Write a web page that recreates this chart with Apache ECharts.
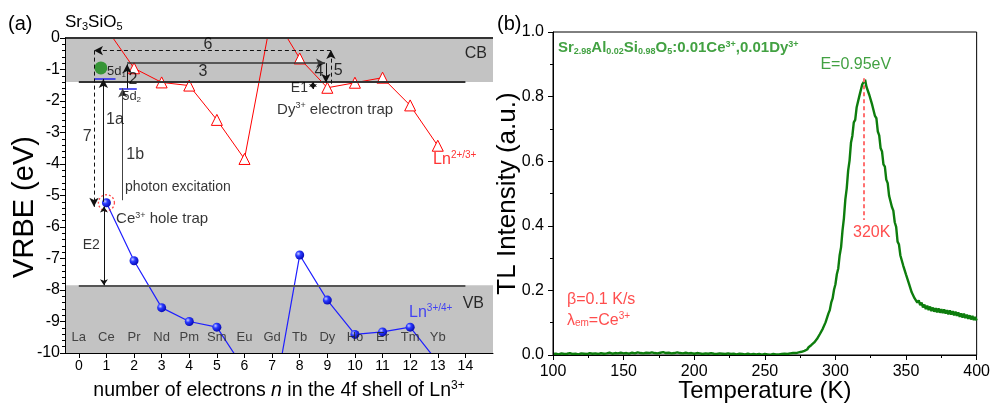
<!DOCTYPE html>
<html><head><meta charset="utf-8">
<script src="https://cdn.jsdelivr.net/npm/echarts@6/dist/echarts.min.js"></script>
<style>html,body{margin:0;padding:0;background:#fff}#c{width:993px;height:410px}</style>
</head><body><div id="c"></div>
<script>
// ---------- Panel (a): VRBE diagram ----------
const nTicks = [0,1,2,3,4,5,6,7,8,9,10,11,12,13,14];
const elementNames = ['La','Ce','Pr','Nd','Pm','Sm','Eu','Gd','Tb','Dy','Ho','Er','Tm','Yb'];
const ln23N    = [1, 2, 3, 4, 5, 6, 7, 8, 9, 10, 11, 12, 13];
const ln23VRBE = [0.3, -0.96, -1.41, -1.51, -2.6, -3.84, 0.8, -0.65, -1.58, -1.42, -1.26, -2.14, -3.42];
const ln34N    = [1, 2, 3, 4, 5, 6, 7, 8, 9, 10, 11, 12, 13];
const ln34VRBE = [-5.23, -7.07, -8.56, -9.0, -9.18, -10.52, -11.82, -6.89, -8.32, -9.41, -9.33, -9.18, -10.29];
const cbBottom = -1.4;
const vbTop = -7.85;
const ce5d1 = -1.3;
const ce5d2 = -1.6;
const electronPos = [0.8, -0.95];

// ---------- Panel (b): TL glow curve [T (K), intensity] ----------
const tlCurve = [
[100,.003],[102,.004],[104,.002],[106,.005],[108,.003],[110,.004],[112,.006],[114,.003],[116,.004],[118,.002],
[120,.005],[122,.004],[124,.003],[126,.006],[128,.004],[130,.005],[132,.003],[134,.006],[136,.004],[138,.005],
[140,.007],[142,.004],[144,.006],[146,.005],[148,.007],[150,.005],[152,.006],[154,.004],[156,.007],[158,.005],
[160,.008],[162,.006],[164,.005],[166,.007],[168,.006],[170,.008],[172,.006],[174,.005],[176,.007],[178,.009],
[180,.006],[182,.007],[184,.005],[186,.006],[188,.008],[190,.006],[192,.005],[194,.007],[196,.005],[198,.006],
[200,.004],[202,.006],[204,.005],[206,.003],[208,.005],[210,.004],[212,.006],[214,.004],[216,.003],[218,.005],
[220,.004],[222,.003],[224,.005],[226,.003],[228,.004],[230,.002],[232,.004],[234,.003],[236,.002],[238,.004],
[240,.002],[242,.003],[244,.002],[246,.003],[248,.001],[250,.003],[252,.002],[254,.001],[256,.003],[258,.002],
[260,.002],[262,.003],[264,.004],[266,.003],[268,.005],[270,.006],
[271,.009],[272,.006],[273,.010],[274,.008],[275,.012],[276,.010],[277,.015],[278,.013],[279,.019],[280,.017],
[281,.024],[282,.022],[283,.031],[284,.030],[285,.039],[286,.040],[287,.050],[288,.051],[289,.065],[290,.066],
[291,.081],[292,.085],[293,.101],[294,.105],[295,.128],[296,.139],[297,.162],[298,.175],[299,.202],[300,.219],
[301,.250],[302,.268],[303,.309],[304,.334],[305,.385],[306,.423],[307,.481],[308,.516],[309,.571],[310,.602],
[311,.657],[312,.679],[313,.720],[314,.728],[315,.766],[316,.765],[317,.803],[318,.808],[319,.838],[320,.840],
[321,.852],[322,.830],[323,.833],[324,.805],[325,.804],[326,.775],[327,.772],[328,.740],[329,.733],[330,.692],
[331,.680],[332,.640],[333,.630],[334,.590],[335,.583],[336,.543],[337,.532],[338,.493],[339,.487],[340,.458],
[341,.447],[342,.411],[343,.397],[344,.351],[345,.342],[346,.308],[347,.304],[348,.277],[349,.274],[350,.249],
[351,.246],[352,.222],[353,.219],[354,.194],[355,.196],[356,.176],[357,.181],[358,.162],[359,.169],[360,.154],
[361,.162],[362,.147],[363,.156],[364,.142],[365,.153],[366,.139],[367,.150],[368,.136],[369,.147],[370,.134],
[371,.145],[372,.132],[373,.144],[374,.131],[375,.142],[376,.130],[377,.141],[378,.128],[379,.139],[380,.126],
[381,.138],[382,.125],[383,.136],[384,.123],[385,.134],[386,.121],[387,.132],[388,.118],[389,.129],[390,.116],
[391,.128],[392,.114],[393,.125],[394,.112],[395,.123],[396,.110],[397,.121],[398,.108],[399,.118],[400,.107]
];
const peakT = 320;
const peakTop = 0.857, peakBottom = 0.418;

// ---------- styling ----------
const FONT = '"Liberation Sans", Arial, sans-serif';
function rich(fs) {
  return {
    sup: {fontSize: Math.round(fs*0.62), padding: [0,0,Math.round(fs*0.5),0], fontFamily: FONT},
    sub: {fontSize: Math.round(fs*0.62), padding: [Math.round(fs*0.45),0,0,0], fontFamily: FONT},
    i: {fontStyle: 'italic', fontSize: fs, fontFamily: FONT}
  };
}
function ann(x, y, text, o) {
  o = o || {};
  const fs = o.fontSize || 15;
  return {
    value: [x, y],
    label: {
      show: true, position: 'inside', formatter: text,
      align: o.align || 'center', verticalAlign: 'middle',
      fontSize: fs, color: o.color || '#000', fontFamily: FONT,
      fontWeight: o.bold ? 'bold' : 'normal',
      rich: rich(fs)
    }
  };
}
function arrow(x1, y1, x2, y2, o) {
  o = o || {};
  return [
    {coord: [x1, y1], symbol: o.both ? 'arrow' : 'none', symbolSize: o.size || [7, 9]},
    {coord: [x2, y2], symbol: 'arrow', symbolSize: o.size || [7, 9],
     lineStyle: {type: o.dashed ? [4, 3] : 'solid', color: o.color || '#111', width: o.width || 1}}
  ];
}
function seg(x1, y1, x2, y2, color, width) {
  return [
    {coord: [x1, y1], symbol: 'none'},
    {coord: [x2, y2], symbol: 'none', lineStyle: {type: 'solid', color: color, width: width}}
  ];
}

const annotationsA = [
  ann(4.68, -0.22, '6', {fontSize: 16}),
  ann(4.50, -1.08, '3', {fontSize: 16}),
  ann(1.96, -1.33, '2', {fontSize: 16}),
  ann(8.70, -1.08, '4', {fontSize: 16}),
  ann(9.39, -1.05, '5', {fontSize: 16}),
  ann(1.02, -1.07, '5d{sub|1}', {fontSize: 13, align: 'left'}),
  ann(1.57, -1.86, '5d{sub|2}', {fontSize: 13, align: 'left'}),
  ann(1.31, -2.6, '1a', {fontSize: 16}),
  ann(0.30, -3.14, '7', {fontSize: 16}),
  ann(2.04, -3.71, '1b', {fontSize: 16}),
  ann(1.67, -4.73, 'photon excitation', {fontSize: 14, align: 'left'}),
  ann(8.30, -1.59, 'E1', {fontSize: 14, align: 'right'}),
  ann(7.18, -2.27, 'Dy{sup|3+} electron trap', {fontSize: 15, align: 'left'}),
  ann(12.83, -3.85, 'Ln{sup|2+/3+}', {fontSize: 16, align: 'left', color: '#ff0000'}),
  ann(1.35, -5.75, 'Ce{sup|3+} hole trap', {fontSize: 15, align: 'left'}),
  ann(0.45, -6.57, 'E2', {fontSize: 14}),
  ann(11.96, -8.72, 'Ln{sup|3+/4+}', {fontSize: 16, align: 'left', color: '#1f1fff'}),
  ann(14.78, -0.51, 'CB', {fontSize: 16, align: 'right'}),
  ann(13.90, -8.44, 'VB', {fontSize: 16, align: 'left'})
].concat(elementNames.map((nm, i) => ann(nTicks[i], -9.52, nm, {fontSize: 13, color: '#222'})));

const annotationsB = [
  ann(103.5, 0.95, 'Sr{sub|2.98}Al{sub|0.02}Si{sub|0.98}O{sub|5}:0.01Ce{sup|3+},0.01Dy{sup|3+}', {fontSize: 15, bold: true, align: 'left', color: '#138a13'}),
  ann(314.4, 0.898, 'E=0.95eV', {fontSize: 16, color: '#138a13'}),
  ann(325.7, 0.378, '320K', {fontSize: 16, color: '#ff2020'}),
  ann(109.9, 0.17, 'β=0.1 K/s', {fontSize: 16, align: 'left', color: '#ff2020'}),
  ann(109.9, 0.108, 'λ{sub|em}=Ce{sup|3+}', {fontSize: 16, align: 'left', color: '#ff2020'})
];

const chart = echarts.init(document.getElementById('c'), null, {renderer: 'canvas'});
const axisTxt = {color: '#000', fontFamily: FONT};

const option = {
  animation: false,
  backgroundColor: '#fff',
  textStyle: {fontFamily: FONT},
  grid: [
    {left: 65, top: 38, width: 428, height: 315, show: false},
    {left: 553, top: 32, width: 424, height: 323, show: true, borderColor: '#000', borderWidth: 1, backgroundColor: 'transparent'}
  ],
  xAxis: [
    {
      type: 'value', gridIndex: 0, min: -0.5, max: 15, z: 10,
      axisLine: {show: true, onZero: false, lineStyle: {color: '#000', width: 1}},
      axisTick: {show: true, customValues: nTicks, length: 5, lineStyle: {color: '#000'}},
      axisLabel: {customValues: nTicks, fontSize: 14, margin: 6, ...axisTxt},
      splitLine: {show: false},
      name: 'number of electrons {i|n} in the 4f shell of Ln{sup|3+}',
      nameLocation: 'middle', nameGap: 27, nameMoveOverlap: false,
      nameTextStyle: {fontSize: 19.5, color: '#000', fontFamily: FONT, rich: rich(19.5)}
    },
    {
      type: 'value', gridIndex: 1, min: 100, max: 400, interval: 50, z: 10,
      axisLine: {show: true, onZero: false, lineStyle: {color: '#000'}},
      axisTick: {show: true, length: 5, lineStyle: {color: '#000'}},
      minorTick: {show: true, splitNumber: 2, length: 3, lineStyle: {color: '#000'}},
      axisLabel: {fontSize: 16, margin: 9, ...axisTxt},
      splitLine: {show: false},
      name: 'Temperature (K)', nameLocation: 'middle', nameGap: 24, nameMoveOverlap: false,
      nameTextStyle: {fontSize: 24, color: '#000', fontFamily: FONT}
    }
  ],
  yAxis: [
    {
      type: 'value', gridIndex: 0, min: -10, max: 0, interval: 1, z: 10,
      axisLine: {show: true, onZero: false, lineStyle: {color: '#000'}},
      axisTick: {show: true, length: 5, lineStyle: {color: '#000'}},
      minorTick: {show: true, splitNumber: 5, length: 3, lineStyle: {color: '#000'}},
      axisLabel: {fontSize: 16, margin: 5, ...axisTxt},
      splitLine: {show: false}
    },
    {
      type: 'value', gridIndex: 1, min: 0, max: 1, interval: 0.2, z: 10,
      axisLine: {show: true, onZero: false, lineStyle: {color: '#000'}},
      axisTick: {show: true, length: 5, lineStyle: {color: '#000'}},
      minorTick: {show: true, splitNumber: 2, length: 3, lineStyle: {color: '#000'}},
      axisLabel: {fontSize: 16, margin: 9, formatter: v => v.toFixed(1), ...axisTxt},
      splitLine: {show: false},
      name: 'TL Intensity (a.u.)', nameLocation: 'middle', nameGap: 32, nameRotate: 90, nameMoveOverlap: false,
      nameTextStyle: {fontSize: 26, color: '#000', fontFamily: FONT}
    }
  ],
  series: [
    {
      type: 'line', xAxisIndex: 0, yAxisIndex: 0, data: [], z: 1, silent: true,
      markArea: {
        silent: true,
        itemStyle: {color: '#c3c3c3'},
        data: [
          [{coord: [-0.5, 0]}, {coord: [15, cbBottom]}],
          [{coord: [-0.5, vbTop]}, {coord: [15, -10]}]
        ]
      },
      markLine: {
        silent: true, symbol: 'none', label: {show: false}, animation: false,
        data: [
          seg(-0.5, 0, 15, 0, '#333', 2),
          seg(0, cbBottom, 14, cbBottom, '#333', 2),
          seg(0, vbTop, 14, vbTop, '#555', 2),
          seg(0.55, ce5d1, 1.33, ce5d1, '#2222ee', 1.5),
          seg(1.46, ce5d2, 2.1, ce5d2, '#2222ee', 1.5)
        ]
      }
    },
    {
      type: 'line', xAxisIndex: 0, yAxisIndex: 0, z: 3,
      data: ln23N.map((n, i) => [n, ln23VRBE[i]]),
      symbol: 'triangle', symbolSize: 11, showAllSymbol: true, clip: true,
      lineStyle: {color: '#ff0000', width: 1},
      itemStyle: {color: '#ffffff', borderColor: '#ff0000', borderWidth: 1}
    },
    {
      type: 'line', xAxisIndex: 0, yAxisIndex: 0, z: 3,
      data: ln34N.map((n, i) => [n, ln34VRBE[i]]),
      symbol: 'circle', symbolSize: 9, showAllSymbol: true, clip: true,
      lineStyle: {color: '#1f1fff', width: 1.2},
      itemStyle: {color: {type: 'radial', x: 0.35, y: 0.35, r: 0.75,
        colorStops: [{offset: 0, color: '#c8ccff'}, {offset: 0.35, color: '#2a3aff'}, {offset: 1, color: '#0000a8'}]}}
    },
    {
      type: 'scatter', xAxisIndex: 0, yAxisIndex: 0, z: 4,
      data: [[ln34N[0], ln34VRBE[0]]], symbol: 'circle', symbolSize: 16,
      itemStyle: {color: 'transparent', borderColor: '#ff2020', borderWidth: 1.3, borderType: [2, 2]}
    },
    {
      type: 'scatter', xAxisIndex: 0, yAxisIndex: 0, z: 4,
      data: [electronPos], symbol: 'circle', symbolSize: 13,
      itemStyle: {color: '#138a13'}
    },
    {
      type: 'line', xAxisIndex: 0, yAxisIndex: 0, data: [], z: 5, silent: true,
      markLine: {
        silent: true, label: {show: false}, animation: false,
        data: [
          arrow(0.89, -5.2, 0.89, ce5d1),
          arrow(1.59, -5.15, 1.59, ce5d2, {color: '#444'}),
          arrow(1.75, ce5d2, 1.75, -0.83),
          arrow(1.75, -0.8, 8.92, -0.8, {color: '#333', width: 1.5}),
          arrow(8.95, -0.8, 8.95, -1.42),
          arrow(9.13, -1.45, 9.13, -0.38, {dashed: true}),
          arrow(9.13, -0.4, 0.55, -0.4, {dashed: true}),
          arrow(0.55, -0.4, 0.55, -5.36, {dashed: true}),
          arrow(8.48, -1.4, 8.48, -1.62, {both: true, size: [6, 5]}),
          arrow(0.91, -5.35, 0.91, vbTop, {both: true, size: [6, 6]})
        ]
      }
    },
    {
      type: 'scatter', xAxisIndex: 0, yAxisIndex: 0, z: 6, silent: true,
      symbolSize: 0, data: annotationsA
    },
    {
      type: 'line', xAxisIndex: 1, yAxisIndex: 1, z: 3,
      data: tlCurve, showSymbol: false, symbol: 'none',
      lineStyle: {color: '#0d7d0d', width: 2.4}
    },
    {
      type: 'line', xAxisIndex: 1, yAxisIndex: 1, data: [], z: 5, silent: true,
      markLine: {
        silent: true, label: {show: false}, animation: false,
        data: [[
          {coord: [peakT, peakTop], symbol: 'none'},
          {coord: [peakT, peakBottom], symbol: 'none', lineStyle: {type: [4, 3], color: '#ff7070', width: 2}}
        ]]
      }
    },
    {
      type: 'scatter', xAxisIndex: 1, yAxisIndex: 1, z: 6, silent: true,
      symbolSize: 0, data: annotationsB
    }
  ],
  graphic: [
    {type: 'text', left: 8, top: 14, style: {text: '(a)', fontSize: 20, fill: '#000', fontFamily: FONT}},
    {type: 'text', left: 497, top: 14, style: {text: '(b)', fontSize: 20, fill: '#000', fontFamily: FONT}},
    {type: 'text', x: 25, y: 207, rotation: Math.PI / 2,
      style: {text: 'VRBE (eV)', fontSize: 29, fill: '#000', fontFamily: FONT, align: 'center', verticalAlign: 'middle'}},
    {type: 'text', left: 65, top: 14, style: {
      text: '{n|Sr}{s|3}{n|SiO}{s|5}', fill: '#000', fontFamily: FONT,
      rich: {n: {fontSize: 17, fontFamily: FONT}, s: {fontSize: 11, padding: [8, 0, 0, 0], fontFamily: FONT}}
    }}
  ]
};
chart.setOption(option);
</script>
</body></html>
